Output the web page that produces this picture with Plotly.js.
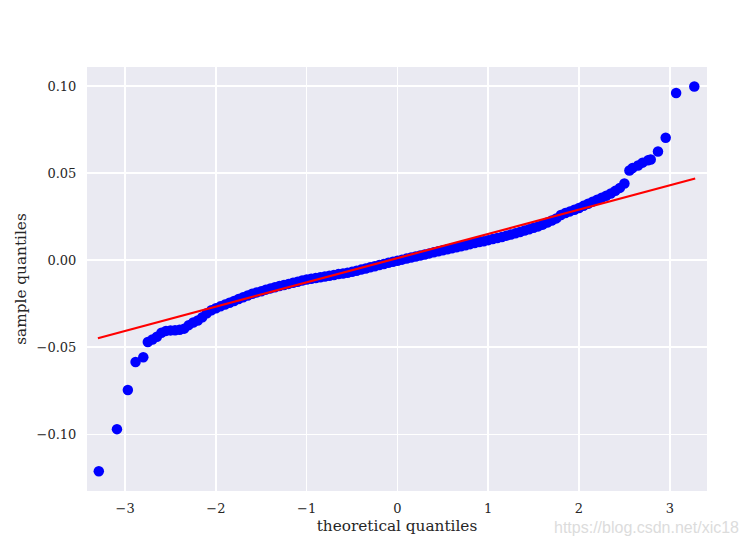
<!DOCTYPE html>
<html>
<head>
<meta charset="utf-8">
<script src="https://cdn.plot.ly/plotly-3.0.1.min.js"></script>
<style>html,body{margin:0;padding:0;background:#fff;}#chart{width:749px;height:548px;}</style>
</head>
<body>
<div id="chart"></div>
<script>
// Theoretical quantiles (x) and sample quantiles (y)
const theoretical = [
  -3.29, -3.09, -2.97, -2.885, -2.80,
  -2.75, -2.70, -2.65, -2.60, -2.55, -2.50, -2.45, -2.40, -2.35, -2.30,
  -2.25, -2.20, -2.15, -2.10, -2.05, -2.00, -1.95, -1.90, -1.85, -1.80,
  -1.75, -1.70, -1.65, -1.60, -1.55, -1.50, -1.45, -1.40, -1.35, -1.30,
  -1.25, -1.20, -1.15, -1.10, -1.05, -1.00, -0.95, -0.90, -0.85, -0.80,
  -0.75, -0.70, -0.65, -0.60, -0.55, -0.50, -0.45, -0.40, -0.35, -0.30,
  -0.25, -0.20, -0.15, -0.10, -0.05, 0.00, 0.05, 0.10, 0.15, 0.20,
  0.25, 0.30, 0.35, 0.40, 0.45, 0.50, 0.55, 0.60, 0.65, 0.70,
  0.75, 0.80, 0.85, 0.90, 0.95, 1.00, 1.05, 1.10, 1.15, 1.20,
  1.25, 1.30, 1.35, 1.40, 1.45, 1.50, 1.55, 1.60, 1.65, 1.70,
  1.75, 1.80, 1.85, 1.90, 1.95, 2.00, 2.05, 2.10, 2.15, 2.20,
  2.25, 2.30, 2.35, 2.40, 2.45, 2.50,
  2.555, 2.59, 2.65, 2.70, 2.76, 2.79, 2.87, 2.955, 3.07, 3.27
];
const sample = [
  -0.1212, -0.0970, -0.0745, -0.0584, -0.0557,
  -0.0470, -0.0455, -0.0440, -0.0417, -0.0406, -0.0403, -0.0402, -0.0400, -0.0393, -0.0373,
  -0.0358, -0.0346, -0.0328, -0.0305, -0.0287, -0.0276, -0.0265, -0.0255, -0.0244, -0.0234,
  -0.0223, -0.0213, -0.0203, -0.0193, -0.0185, -0.0178, -0.0169, -0.0162, -0.0155, -0.0148,
  -0.0142, -0.0136, -0.0130, -0.0124, -0.0117, -0.0111, -0.0107, -0.0102, -0.0098, -0.0094,
  -0.0089, -0.0085, -0.0080, -0.0076, -0.0072, -0.0067, -0.0061, -0.0054, -0.0048, -0.0041,
  -0.0035, -0.0028, -0.0022, -0.0015, -0.0009, -0.0003, 0.0003, 0.0009, 0.0015, 0.0021,
  0.0027, 0.0033, 0.0039, 0.0045, 0.0051, 0.0057, 0.0063, 0.0069, 0.0074, 0.0080,
  0.0086, 0.0092, 0.0098, 0.0104, 0.0109, 0.0115, 0.0121, 0.0127, 0.0133, 0.0140,
  0.0147, 0.0154, 0.0162, 0.0170, 0.0178, 0.0186, 0.0194, 0.0204, 0.0216, 0.0228,
  0.0240, 0.0259, 0.0271, 0.0280, 0.0290, 0.0300, 0.0312, 0.0324, 0.0336, 0.0347,
  0.0358, 0.0370, 0.0383, 0.0398, 0.0415, 0.0440,
  0.0515, 0.0529, 0.0544, 0.0560, 0.0573, 0.0578, 0.0624, 0.0703, 0.0960, 0.0997
];
// Reference (fitted) line endpoints
const lineX = [-3.30, 3.28];
const lineY = [-0.0448, 0.0469];

// Tick labels
const xTickVals = [-3, -2, -1, 0, 1, 2, 3];
const xTickText = ['\u22123', '\u22122', '\u22121', '0', '1', '2', '3'];
const yTickVals = [0.10, 0.05, 0.00, -0.05, -0.10];
const yTickText = ['0.10', '0.05', '0.00', '\u22120.05', '\u22120.10'];

const serif = 'DejaVu Serif, serif';

const traces = [
  {
    x: theoretical, y: sample, type: 'scatter', mode: 'markers',
    marker: {color: '#0000FF', size: 10.5, line: {width: 0}},
    hoverinfo: 'skip', showlegend: false
  },
  {
    x: lineX, y: lineY, type: 'scatter', mode: 'lines',
    line: {color: '#FF0000', width: 2.2},
    hoverinfo: 'skip', showlegend: false
  }
];

const layout = {
  width: 749, height: 548,
  margin: {l: 87, r: 42, t: 67, b: 57},
  paper_bgcolor: '#FFFFFF',
  plot_bgcolor: '#EAEAF2',
  font: {family: serif, color: '#262626', size: 13},
  showlegend: false,
  xaxis: {
    range: [-3.42, 3.41],
    tickvals: xTickVals, ticktext: xTickText,
    showgrid: true, gridcolor: '#FFFFFF', gridwidth: 1.6,
    zeroline: false, showline: false,
    ticks: 'outside', ticklen: 5, tickcolor: 'rgba(0,0,0,0)',
    tickfont: {family: serif, size: 13, color: '#262626'},
    title: {text: 'theoretical quantiles', font: {family: serif, size: 15.3, color: '#262626'}, standoff: 5}
  },
  yaxis: {
    range: [-0.1325, 0.1109],
    tickvals: yTickVals, ticktext: yTickText,
    showgrid: true, gridcolor: '#FFFFFF', gridwidth: 1.6,
    zeroline: false, showline: false,
    ticks: 'outside', ticklen: 7, tickcolor: 'rgba(0,0,0,0)',
    tickfont: {family: serif, size: 13, color: '#262626'},
    title: {text: 'sample quantiles', font: {family: serif, size: 15.3, color: '#262626'}, standoff: 6}
  },
  annotations: [{
    text: 'https://blog.csdn.net/xic18',
    xref: 'paper', yref: 'paper', x: 1.055, y: -0.085,
    xanchor: 'right', yanchor: 'middle', showarrow: false,
    font: {family: 'Liberation Sans, Arial, sans-serif', size: 16, color: '#DCDCDC'}
  }]
};

Plotly.newPlot('chart', traces, layout, {displayModeBar: false, staticPlot: true});
</script>
</body>
</html>
